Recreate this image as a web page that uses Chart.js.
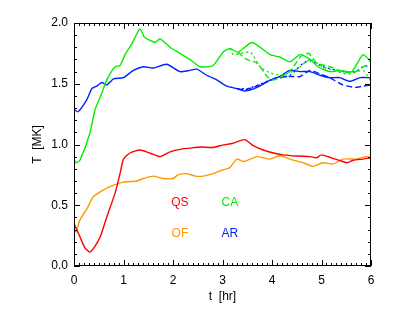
<!DOCTYPE html>
<html lang="en">
<head>
  <meta charset="UTF-8">
  <title>Temperature</title>
  <style>
    body { margin: 0; background: #fff; }
    #wrap { width: 393px; height: 314px; }
  </style>
</head>
<body>
  <div id="wrap">
    <canvas id="myChart" width="393" height="314"></canvas>
  </div>

  <script src="https://cdn.jsdelivr.net/npm/chart.js"></script>

  <script>
    // time [hr] and temperature [MK]
    const qsT = [0, 0.12, 0.22, 0.32, 0.42, 0.53, 0.66, 0.83, 0.93, 1.0, 1.13, 1.33, 1.53, 1.74, 1.94, 2.14, 2.34, 2.55, 2.81, 3.0, 3.21, 3.45, 3.62, 3.82, 4.03, 4.22, 4.5, 4.77, 4.9, 5.0, 5.2, 5.36, 5.51, 5.64, 5.84, 6.0];
    const qsV = [0.35, 0.24, 0.15, 0.115, 0.16, 0.24, 0.40, 0.60, 0.76, 0.88, 0.93, 0.955, 0.93, 0.90, 0.94, 0.96, 0.97, 0.98, 0.975, 0.995, 1.01, 1.04, 0.99, 0.955, 0.93, 0.915, 0.905, 0.90, 0.89, 0.915, 0.89, 0.87, 0.85, 0.87, 0.88, 0.89];

    const ofT = [0, 0.04, 0.12, 0.26, 0.39, 0.59, 0.8, 1.0, 1.27, 1.4, 1.6, 1.8, 2.0, 2.1, 2.27, 2.45, 2.61, 2.81, 3.0, 3.15, 3.29, 3.43, 3.7, 3.96, 4.16, 4.36, 4.63, 4.83, 5.03, 5.23, 5.43, 5.7, 5.9, 6.0];
    const ofV = [0.30, 0.28, 0.38, 0.47, 0.57, 0.625, 0.665, 0.69, 0.70, 0.72, 0.74, 0.72, 0.72, 0.75, 0.76, 0.74, 0.74, 0.76, 0.79, 0.81, 0.88, 0.86, 0.90, 0.88, 0.91, 0.88, 0.85, 0.82, 0.85, 0.84, 0.88, 0.88, 0.90, 0.89];

    const caT = [0, 0.05, 0.12, 0.32, 0.42, 0.56, 0.66, 0.83, 0.93, 1.03, 1.17, 1.33, 1.43, 1.64, 1.74, 1.94, 2.14, 2.34, 2.55, 2.81, 3.01, 3.15, 3.31, 3.6, 3.96, 4.16, 4.36, 4.57, 4.77, 4.93, 5.17, 5.37, 5.61, 5.84, 6.0];
    const caV = [0.87, 0.85, 0.87, 1.09, 1.28, 1.42, 1.53, 1.64, 1.65, 1.74, 1.83, 1.95, 1.88, 1.84, 1.87, 1.80, 1.75, 1.70, 1.64, 1.65, 1.76, 1.79, 1.76, 1.84, 1.74, 1.72, 1.68, 1.74, 1.70, 1.64, 1.60, 1.61, 1.60, 1.74, 1.68];

    const caDashT = [3.31, 3.49, 3.7, 3.9, 4.03, 4.36, 4.57, 4.74, 4.9, 5.17, 5.43, 5.64, 5.84, 6.0];
    const caDashV = [1.76, 1.70, 1.67, 1.56, 1.53, 1.60, 1.72, 1.75, 1.67, 1.64, 1.60, 1.59, 1.64, 1.66];

    const caDotT = [3.15, 3.22, 3.56, 3.76, 3.96, 4.16, 4.36, 4.57, 4.77, 5.03, 5.3, 5.57, 5.84, 6.0];
    const caDotV = [1.79, 1.74, 1.76, 1.64, 1.59, 1.57, 1.59, 1.64, 1.70, 1.64, 1.60, 1.58, 1.61, 1.52];

    const arT = [0, 0.08, 0.26, 0.36, 0.46, 0.56, 0.66, 0.8, 1.0, 1.2, 1.4, 1.6, 1.87, 2.14, 2.34, 2.48, 2.68, 2.89, 3.09, 3.29, 3.45, 3.7, 3.96, 4.16, 4.36, 4.57, 4.77, 4.97, 5.17, 5.37, 5.57, 5.78, 6.0];
    const arV = [1.29, 1.27, 1.37, 1.46, 1.48, 1.51, 1.49, 1.54, 1.55, 1.61, 1.64, 1.63, 1.66, 1.60, 1.61, 1.62, 1.57, 1.53, 1.48, 1.46, 1.44, 1.47, 1.53, 1.56, 1.61, 1.60, 1.60, 1.57, 1.55, 1.55, 1.52, 1.55, 1.55];

    const arDashT = [3.29, 3.46, 3.82, 4.1, 4.36, 4.57, 4.77, 4.97, 5.17, 5.43, 5.68, 5.84, 6.0];
    const arDashV = [1.46, 1.45, 1.50, 1.55, 1.56, 1.56, 1.61, 1.58, 1.55, 1.49, 1.47, 1.48, 1.49];

    const arDotT = [3.29, 3.5, 3.66, 3.96, 4.36, 4.63, 4.77, 5.03, 5.43, 5.7, 5.88, 6.0];
    const arDotV = [1.46, 1.46, 1.48, 1.53, 1.57, 1.67, 1.69, 1.64, 1.60, 1.60, 1.65, 1.62];

    const xTicks = [0, 1, 2, 3, 4, 5, 6];
    const yTicks = [0.0, 0.5, 1.0, 1.5, 2.0];
    const labels = [
      { text: 'QS', x: 2.14, y: 0.52, color: '#ff0000' },
      { text: 'OF', x: 2.14, y: 0.27, color: '#ff9900' },
      { text: 'CA', x: 3.15, y: 0.52, color: '#00ee00' },
      { text: 'AR', x: 3.15, y: 0.27, color: '#0022ff' }
    ];

    const pts = (t, v) => t.map((x, i) => ({ x: x, y: v[i] }));

    function line(label, t, v, color, dash) {
      return {
        label: label,
        data: pts(t, v),
        borderColor: color,
        borderWidth: 1.4,
        borderDash: dash || [],
        pointRadius: 0,
        tension: 0.2,
        fill: false
      };
    }

    // inward ticks on all four sides, frame and series labels
    const framePlugin = {
      id: 'frame',
      afterDraw(chart) {
        const c = chart.ctx;
        const a = chart.chartArea;
        const xs = chart.scales.x;
        const ys = chart.scales.y;
        c.save();
        c.strokeStyle = '#000';
        c.lineWidth = 1;
        c.strokeRect(a.left + 0.5, a.top + 0.5, a.right - a.left - 1, a.bottom - a.top - 1);
        c.beginPath();
        for (let i = 0; i <= 60; i++) {
          const px = Math.round(xs.getPixelForValue(i / 10)) + 0.5;
          const len = i % 10 === 0 ? 6 : 3;
          c.moveTo(px, a.bottom); c.lineTo(px, a.bottom - len);
          c.moveTo(px, a.top); c.lineTo(px, a.top + len);
        }
        for (let i = 0; i <= 20; i++) {
          const py = Math.round(ys.getPixelForValue(i / 10)) + 0.5;
          const len = i % 5 === 0 ? 6 : 3;
          c.moveTo(a.left, py); c.lineTo(a.left + len, py);
          c.moveTo(a.right, py); c.lineTo(a.right - len, py);
        }
        c.stroke();
        c.font = '12px "Liberation Sans", Arial, sans-serif';
        c.textAlign = 'center';
        c.textBaseline = 'middle';
        labels.forEach(l => {
          c.fillStyle = l.color;
          c.fillText(l.text, xs.getPixelForValue(l.x), ys.getPixelForValue(l.y));
        });
        c.restore();
      }
    };

    const ctx = document.getElementById('myChart').getContext('2d');
    const font = { family: '"Liberation Sans", Arial, sans-serif', size: 12 };

    new Chart(ctx, {
      type: 'line',
      data: {
        datasets: [
          line('QS', qsT, qsV, '#ff0000'),
          line('OF', ofT, ofV, '#ff9900'),
          line('CA dotted', caDotT, caDotV, '#00ee00', [2, 3]),
          line('CA dashed', caDashT, caDashV, '#00ee00', [6, 3]),
          line('CA', caT, caV, '#00ee00'),
          line('AR dotted', arDotT, arDotV, '#0022ff', [2, 3]),
          line('AR dashed', arDashT, arDashV, '#0022ff', [6, 3]),
          line('AR', arT, arV, '#0022ff')
        ]
      },
      plugins: [framePlugin],
      options: {
        responsive: false,
        animation: false,
        layout: { padding: { left: 14, right: 22, top: 23, bottom: 0 } },
        plugins: {
          legend: { display: false },
          tooltip: { enabled: false }
        },
        scales: {
          x: {
            type: 'linear',
            min: 0,
            max: 6,
            afterBuildTicks: s => { s.ticks = xTicks.map(v => ({ value: v })); },
            afterFit: s => { s.height = 48; },
            grid: { display: false, drawTicks: false },
            border: { display: false },
            ticks: { color: '#000', font: font, padding: 7, maxRotation: 0 },
            title: { display: true, text: 't  [hr]', color: '#000', font: font, padding: { top: 0, bottom: 10 } }
          },
          y: {
            min: 0,
            max: 2,
            afterBuildTicks: s => { s.ticks = yTicks.map(v => ({ value: v })); },
            afterFit: s => { s.width = 60; },
            grid: { display: false, drawTicks: false },
            border: { display: false },
            ticks: { color: '#000', font: font, padding: 6, callback: v => v.toFixed(1) },
            title: { display: true, text: 'T  [MK]', color: '#000', font: font, padding: { top: 16, bottom: 4 } }
          }
        }
      }
    });
  </script>
</body>
</html>
